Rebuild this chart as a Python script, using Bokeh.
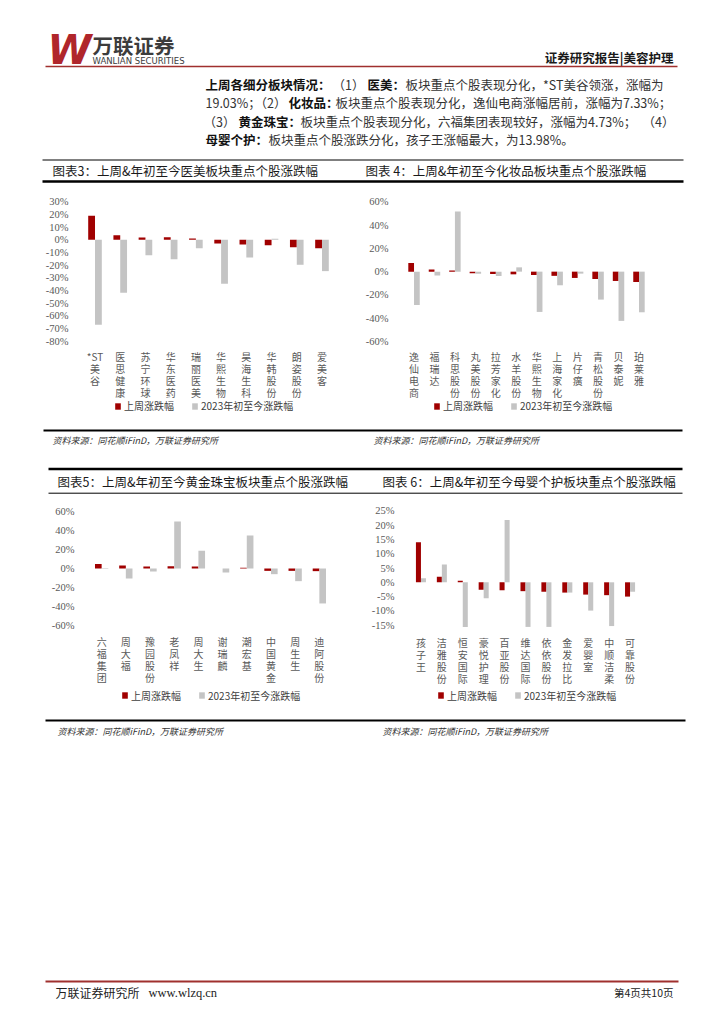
from bokeh.plotting import figure
from bokeh.models import (Range1d, FactorRange, ColumnDataSource, FixedTicker,
                          PrintfTickFormatter, Legend, LegendItem)
from bokeh.transform import dodge
from bokeh.layouts import column, row
from bokeh.core.properties import value
from bokeh.embed import file_html
from bokeh.resources import INLINE

# ---------------- data ----------------
cats_med = ["*ST美谷", "医思健康", "苏宁环球", "华东医药", "瑞丽医美", "华熙生物", "昊海生科", "华韩股份", "朗姿股份", "爱美客"]
wk_med = [19.03, 3.7, 1.8, 2.1, 1.0, -2.9, -3.7, -4.2, -5.8, -6.6]
ytd_med = [-67.1, -41.8, -12.1, -15.3, -6.6, -34.7, -13.9, 0.8, -19.7, -24.7]
ticks_med = [30, 20, 10, 0, -10, -20, -30, -40, -50, -60, -70, -80]

cats_cos = ["逸仙电商", "福瑞达", "科思股份", "丸美股份", "拉芳家化", "水羊股份", "华熙生物", "上海家化", "片仔癀", "青松股份", "贝泰妮", "珀莱雅"]
wk_cos = [7.33, 1.8, 1.0, -1.4, -2.0, -2.3, -2.9, -3.6, -5.4, -6.3, -8.0, -8.9]
ytd_cos = [-28.6, -3.4, 51.7, -1.7, -3.7, 3.7, -34.6, -11.7, -1.7, -24.0, -42.3, -34.9]
ticks_cos = [60, 40, 20, 0, -20, -40, -60]

cats_gold = ["六福集团", "周大福", "豫园股份", "老凤祥", "周大生", "谢瑞麟", "潮宏基", "中国黄金", "周生生", "迪阿股份"]
wk_gold = [4.73, 3.2, 2.1, 2.5, 2.0, 0.1, 0.8, -2.5, -2.5, -2.8]
ytd_gold = [0.5, -10.6, -3.2, 49.7, 18.7, -4.2, 35.0, -6.0, -13.4, -37.0]
ticks_gold = [60, 40, 20, 0, -20, -40, -60]

cats_baby = ["孩子王", "洁雅股份", "恒安国际", "豪悦护理", "百亚股份", "维达国际", "依依股份", "金发拉比", "爱婴室", "中顺洁柔", "可靠股份"]
wk_baby = [13.98, 1.9, 0.5, -2.6, -2.8, -3.1, -3.3, -3.6, -4.3, -4.5, -5.0]
ytd_baby = [1.4, 6.2, -15.6, -5.6, 21.8, -15.6, -15.6, -3.6, -9.9, -15.3, -3.3]
ticks_baby = [25, 20, 15, 10, 5, 0, -5, -10, -15]

legend_labels = ["上周涨跌幅", "2023年初至今涨跌幅"]
title_med = "图表3：上周&年初至今医美板块重点个股涨跌幅"
title_cos = "图表 4：上周&年初至今化妆品板块重点个股涨跌幅"
title_gold = "图表5：上周&年初至今黄金珠宝板块重点个股涨跌幅"
title_baby = "图表 6：上周&年初至今母婴个护板块重点个股涨跌幅"
source_note = "资料来源：同花顺iFinD，万联证券研究所"

# ---------------- style ----------------
RED = "#A00000"
GREY = "#C4C4C4"
LINE_RED = "#A0302E"
CJK = "Noto Sans CJK SC"
SERIF = "Liberation Serif"
M = 0          # page origin offset of the layout root
PAGE_W = 700


def canvas(H):
    p = figure(width=PAGE_W, height=H, x_range=Range1d(0, PAGE_W), y_range=Range1d(H, 0),
               toolbar_location=None, output_backend="svg",
               x_axis_location=None, y_axis_location=None,
               min_border_left=0, min_border_right=0, min_border_top=0, min_border_bottom=0,
               outline_line_color=None)
    p.grid.visible = False
    return p


def put_text(p, top, x, y, s, size, color="#222222", style="normal", font=CJK,
             align="left", baseline="middle"):
    p.text(x=[x - M], y=[y - top], text=[s], text_font=value(font),
           text_font_size=f"{size}px", text_font_style=style, text_color=color,
           text_align=align, text_baseline=baseline)


def hline(p, top, x0, x1, y, w, color="#000000"):
    p.segment(x0=[x0 - M], y0=[y - top], x1=[x1 - M], y1=[y - top],
              line_width=w, line_color=color)


def vert(c):
    if c.startswith("*ST"):
        return "*ST\n" + "\n".join(c[3:])
    return "\n".join(c)


def bar_chart(cats, wk, ytd, ticks, W, L, H, top, left, v_hi, py_hi, v_lo, py_lo,
              cat_px, bw, lab_top, leg_x, leg_cy):
    n = len(cats)
    frame_w = W - L
    pad = (frame_w / cat_px - n) / 2
    k = (py_lo - py_hi) / (v_hi - v_lo)
    y_end = v_hi + (py_hi - top) / k
    y_start = v_lo - (top + H - py_lo) / k
    xr = FactorRange(factors=cats, range_padding=2 * pad / n, range_padding_units="percent")
    p = figure(width=W, height=H, x_range=xr, y_range=Range1d(y_start, y_end),
               toolbar_location=None, output_backend="svg", x_axis_location=None,
               min_border_left=L, min_border_right=0, min_border_top=0, min_border_bottom=0,
               outline_line_color=None)
    p.extra_y_ranges = {"px": Range1d(H, 0)}
    p.grid.visible = False
    src = ColumnDataSource(dict(cat=cats, lab=[vert(c) for c in cats], wk=wk, ytd=ytd))
    r1 = p.vbar(x=dodge("cat", -bw / 2, range=xr), top="wk", bottom=0, width=bw,
                fill_color=RED, line_color=None, source=src)
    r2 = p.vbar(x=dodge("cat", bw / 2, range=xr), top="ytd", bottom=0, width=bw,
                fill_color=GREY, line_color=None, source=src)
    p.text(x="cat", y=lab_top - top, text="lab", source=src, y_range_name="px",
           text_font=value(CJK), text_font_size="10px", text_color="#595959",
           text_align="center", text_baseline="top", text_line_height=0.8)
    ax = p.yaxis[0]
    ax.ticker = FixedTicker(ticks=ticks)
    ax.formatter = PrintfTickFormatter(format="%d%%")
    ax.axis_line_color = None
    ax.major_tick_line_color = None
    ax.minor_tick_line_color = None
    ax.major_label_standoff = 4
    ax.major_label_text_font = SERIF
    ax.major_label_text_font_size = "10.5px"
    ax.major_label_text_color = "#595959"
    LEG_H = 14
    leg = Legend(items=[LegendItem(label=legend_labels[0], renderers=[r1]),
                        LegendItem(label=legend_labels[1], renderers=[r2])],
                 location=(leg_x - (left + L), (top + H) - leg_cy - LEG_H / 2),
                 orientation="horizontal", glyph_width=7, glyph_height=8,
                 label_standoff=3, spacing=17, padding=0, margin=0,
                 label_text_font=CJK, label_text_font_size="10px",
                 label_text_color="#404040", label_height=10,
                 border_line_color=None, background_fill_alpha=0)
    p.add_layout(leg)
    return p


# ---------------- header ----------------
T_HEAD, H_HEAD = 0, 158
head = canvas(H_HEAD)
put_text(head, T_HEAD, 47, 49, "W", 40, color="#B0262B", style="bold italic", font="DejaVu Sans")
put_text(head, T_HEAD, 92, 44, "万联证券", 20.5, color="#3C3C3C", style="bold")
put_text(head, T_HEAD, 92, 60.5, "WANLIAN SECURITIES", 8.5, color="#3C3C3C", font="DejaVu Sans")
put_text(head, T_HEAD, 673, 57, "证券研究报告|美容护理", 12.5, color="#1A1A1A", style="bold", align="right")
hline(head, T_HEAD, 45, 677, 66, 1.5, LINE_RED)
para = [
    (84, [(205, "上周各细分板块情况：", True), (332, "（1）", False), (367, "医美：", True),
          (405, "板块重点个股表现分化，*ST美谷领涨，涨幅为", False)]),
    (102, [(205, "19.03%；（2）", False), (288, "化妆品：", True),
           (335, "板块重点个股表现分化，逸仙电商涨幅居前，涨幅为7.33%；", False)]),
    (121, [(203, "（3）", False), (238, "黄金珠宝：", True),
           (300, "板块重点个股表现分化，六福集团表现较好，涨幅为4.73%；", False), (642, "（4）", False)]),
    (139, [(205, "母婴个护：", True), (268, "板块重点个股涨跌分化，孩子王涨幅最大，为13.98%。", False)]),
]
for y, runs in para:
    for x, s, b in runs:
        put_text(head, T_HEAD, x, y, s, 12.5, color="#111111" if b else "#333333",
                 style="bold" if b else "normal")

# ---------------- title strip (charts 3/4) ----------------
T_A, H_A = 158, 32
strip_a = canvas(H_A)
hline(strip_a, T_A, 42, 683, 159.5, 1)
put_text(strip_a, T_A, 52, 170, title_med, 12.5, color="#1A1A1A")
put_text(strip_a, T_A, 365, 170, title_cos, 12.5, color="#1A1A1A")
hline(strip_a, T_A, 42, 683, 181, 2.5)

# ---------------- chart row 1 ----------------
T_R1, H_R1 = 190, 230
c3 = bar_chart(cats_med, wk_med, ytd_med, ticks_med, W=338, L=78, H=H_R1, top=T_R1, left=0,
               v_hi=30, py_hi=201.3, v_lo=-80, py_lo=340.7, cat_px=25.22, bw=0.27,
               lab_top=348, leg_x=114, leg_cy=406)
c4 = bar_chart(cats_cos, wk_cos, ytd_cos, ticks_cos, W=316, L=60, H=H_R1, top=T_R1, left=338,
               v_hi=60, py_hi=201.3, v_lo=-60, py_lo=341, cat_px=20.45, bw=0.28,
               lab_top=348.7, leg_x=433, leg_cy=406)

# ---------------- middle strip ----------------
T_B, H_B = 420, 80
strip_b = canvas(H_B)
hline(strip_b, T_B, 43, 682, 430, 2)
put_text(strip_b, T_B, 52, 440, source_note, 9, color="#333333", style="italic")
put_text(strip_b, T_B, 373, 440, source_note, 9, color="#333333", style="italic")
hline(strip_b, T_B, 48, 682, 468.5, 2.5)
put_text(strip_b, T_B, 57, 480.5, title_gold, 12.5, color="#1A1A1A")
put_text(strip_b, T_B, 382, 480.5, title_baby, 12.5, color="#1A1A1A")
hline(strip_b, T_B, 48, 682, 492.7, 1)

# ---------------- chart row 2 ----------------
T_R2, H_R2 = 500, 212
c5 = bar_chart(cats_gold, wk_gold, ytd_gold, ticks_gold, W=336, L=84, H=H_R2, top=T_R2, left=0,
               v_hi=60, py_hi=511.3, v_lo=-60, py_lo=624.7, cat_px=24.19, bw=0.275,
               lab_top=633, leg_x=121, leg_cy=695.7)
c6 = bar_chart(cats_baby, wk_baby, ytd_baby, ticks_baby, W=310, L=68, H=H_R2, top=T_R2, left=336,
               v_hi=25, py_hi=510.3, v_lo=-15, py_lo=624.7, cat_px=20.91, bw=0.24,
               lab_top=634, leg_x=437, leg_cy=695.7)

# ---------------- footer ----------------
T_F, H_F = 712, 300
foot = canvas(H_F)
hline(foot, T_F, 45, 685, 720, 2)
put_text(foot, T_F, 57, 731, source_note, 9, color="#333333", style="italic")
put_text(foot, T_F, 382, 731, source_note, 9, color="#333333", style="italic")
hline(foot, T_F, 45, 678, 981, 2, LINE_RED)
put_text(foot, T_F, 55, 992, "万联证券研究所", 12, color="#222222")
put_text(foot, T_F, 148, 992, "www.wlzq.cn", 12.5, color="#222222", font=SERIF)
put_text(foot, T_F, 673, 992, "第4页共10页", 10.5, color="#222222", align="right")

layout = column(head, strip_a, row(c3, c4, spacing=0), strip_b, row(c5, c6, spacing=0), foot,
                spacing=0)

open("out.html", "w").write(file_html(layout, INLINE))
